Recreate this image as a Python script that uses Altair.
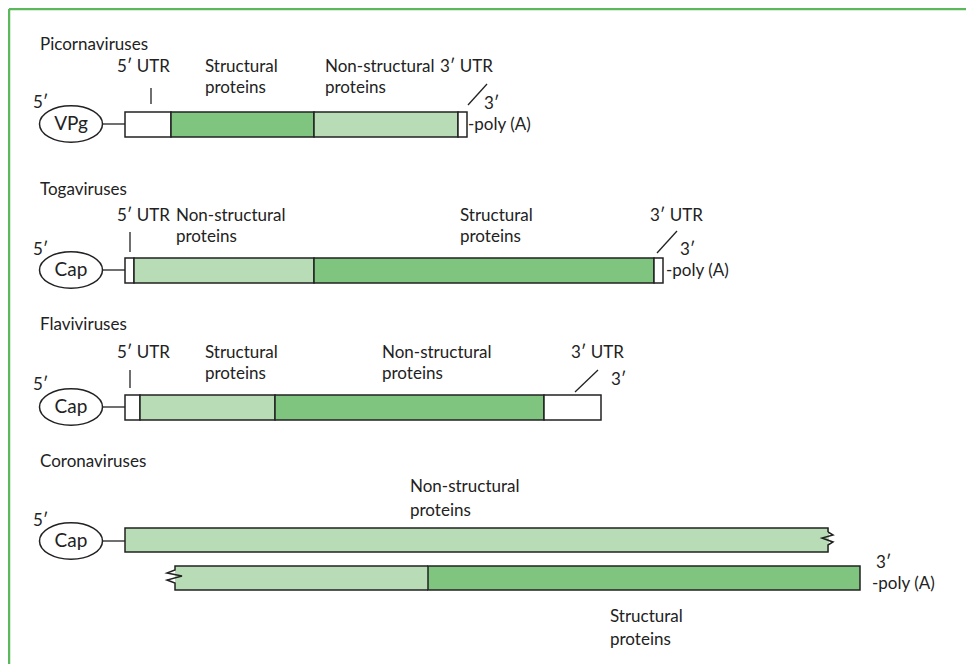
import altair as alt
import pandas as pd

FONT = "Lato"
FS = 17
DARK = "#7fc57f"
LIGHT = "#b8ddb6"
BORDER = "#5cb85c"

# ---- genome segments (x0, x1, y0, y1, kind) ----
seg_x0 = [125, 171, 314, 458, 125, 134, 314, 654, 125, 140, 275, 544, 175, 428]
seg_x1 = [171, 314, 458, 467, 134, 314, 654, 663, 140, 275, 544, 601, 428, 860]
seg_y0 = [112, 112, 112, 112, 258, 258, 258, 258, 395, 395, 395, 395, 566, 566]
seg_y1 = [137, 137, 137, 137, 283, 283, 283, 283, 420, 420, 420, 420, 590, 590]
seg_kind = ["utr", "dark", "light", "utr", "utr", "light", "dark", "utr",
            "utr", "light", "dark", "utr", "light", "dark"]
seg_stroke = [1, 1, 1, 1, 1, 1, 1, 1, 1, 1, 1, 1, 0, 1]

# coronavirus first bar (fill only; outline drawn with zigzag)
cov_fill_x0 = [125]
cov_fill_x1 = [829]
cov_fill_y0 = [528]
cov_fill_y1 = [552]

# outlines with zigzag ends
out1_x = [828, 828, 125, 125, 828, 828, 833, 822, 833, 828, 828]
out1_y = [532, 528, 528, 552, 552, 545, 542, 538, 535, 532, 532]
out2_x = [428, 175, 175, 167, 182, 167, 175, 175, 428]
out2_y = [566, 566, 570, 573, 576, 580, 583, 590, 590]

# caps / VPg ellipses
ell_x = [71, 71, 71, 71]
ell_y = [124, 270, 407, 541]
ell_label = ["VPg", "Cap", "Cap", "Cap"]

# line segments: connectors, ticks, slashes
ln_x = [102, 102, 102, 102, 151, 130, 130, 468, 657, 575]
ln_x2 = [125, 125, 125, 125, 151, 130, 130, 487, 677, 598]
ln_y = [124, 270, 407, 541, 88, 232, 370, 105, 253, 392]
ln_y2 = [124, 270, 407, 541, 104, 252, 388, 84, 231, 370]

# text labels
txt = ["Picornaviruses", "Togaviruses", "Flaviviruses", "Coronaviruses",
       "5′", "5′", "5′", "5′",
       "5′ UTR", "Structural", "proteins", "Non-structural", "proteins", "3′ UTR", "3′", "-poly (A)",
       "5′ UTR", "Non-structural", "proteins", "Structural", "proteins", "3′ UTR", "3′", "-poly (A)",
       "5′ UTR", "Structural", "proteins", "Non-structural", "proteins", "3′ UTR", "3′",
       "Non-structural", "proteins", "3′", "-poly (A)", "Structural", "proteins"]
txt_x = [40, 40, 40, 40,
         33, 33, 33, 33,
         117, 205, 205, 325, 325, 440, 484, 468,
         117, 176, 176, 460, 460, 650, 680, 666,
         117, 205, 205, 382, 382, 571, 611,
         410, 410, 876, 872, 610, 610]
txt_y = [45, 190, 325, 462,
         103, 250, 385, 521,
         67, 67, 88, 67, 88, 67, 104, 125,
         216, 216, 237, 216, 237, 216, 250, 271,
         353, 353, 374, 353, 374, 353, 380,
         487, 511, 563, 584, 617, 640]

# border (top and left of frame)
bd_x = [9, 9]
bd_x2 = [9, 966]
bd_y = [9, 9]
bd_y2 = [664, 9]

X = alt.Scale(domain=[8, 966], nice=False, zero=False)
Y = alt.Scale(domain=[8, 664], nice=False, zero=False, reverse=True)

def xq(f, **kw):
    return alt.X(f, type="quantitative", scale=X, axis=None, **kw)

def yq(f, **kw):
    return alt.Y(f, type="quantitative", scale=Y, axis=None, **kw)

colmap = {"utr": "white", "dark": DARK, "light": LIGHT}
segs = pd.DataFrame({"x0": seg_x0, "x1": seg_x1, "y0": seg_y0, "y1": seg_y1,
                     "fill": [colmap[k] for k in seg_kind], "sw": seg_stroke})
segs["strokecol"] = ["#222222" if s else "none" for s in segs["sw"]]

rects = alt.Chart(segs).mark_rect(strokeWidth=1.5).encode(
    x=xq("x0"), x2="x1", y=yq("y0"), y2="y1",
    fill=alt.Fill("fill:N", scale=None),
    stroke=alt.Stroke("strokecol:N", scale=None),
)

covfill = alt.Chart(pd.DataFrame({"x0": cov_fill_x0, "x1": cov_fill_x1,
                                  "y0": cov_fill_y0, "y1": cov_fill_y1})).mark_rect(
    fill=LIGHT, strokeWidth=0).encode(x=xq("x0"), x2="x1", y=yq("y0"), y2="y1")

outl = pd.DataFrame({
    "x": out1_x + out2_x,
    "y": out1_y + out2_y,
    "g": ["a"] * len(out1_x) + ["b"] * len(out2_x),
    "o": list(range(len(out1_x))) + list(range(len(out2_x))),
})
outlines = alt.Chart(outl).mark_line(color="#222222", strokeWidth=1.5, strokeJoin="miter").encode(
    x=xq("x"), y=yq("y"), detail="g:N", order="o:Q")

lines = alt.Chart(pd.DataFrame({"x": ln_x, "x2": ln_x2, "y": ln_y, "y2": ln_y2})).mark_rule(
    color="#222222", strokeWidth=1.3).encode(x=xq("x"), x2="x2", y=yq("y"), y2="y2")

border = alt.Chart(pd.DataFrame({"x": bd_x, "x2": bd_x2, "y": bd_y, "y2": bd_y2})).mark_rule(
    color=BORDER, strokeWidth=2.5).encode(x=xq("x"), x2="x2", y=yq("y"), y2="y2")

ELLIPSE = "M -1 0 A 1 0.58 0 1 1 1 0 A 1 0.58 0 1 1 -1 0 Z"
ells = pd.DataFrame({"x": ell_x, "y": ell_y, "label": ell_label})
ellipses = alt.Chart(ells).mark_point(
    shape=ELLIPSE, size=3969, filled=False, fill="white", fillOpacity=1,
    stroke="#222222", strokeWidth=1.5, opacity=1).encode(x=xq("x"), y=yq("y"))
ell_text = alt.Chart(ells).mark_text(font=FONT, fontSize=19, color="#222222",
                                     align="center", baseline="middle").encode(
    x=xq("x"), y=yq("y"), text="label:N")

texts = alt.Chart(pd.DataFrame({"x": txt_x, "y": txt_y, "t": txt})).mark_text(
    font=FONT, fontSize=FS, color="#222222", align="left", baseline="middle").encode(
    x=xq("x"), y=yq("y"), text="t:N")

chart = alt.layer(border, covfill, rects, outlines, lines, ellipses, ell_text, texts).properties(
    width=958, height=656, padding=0, autosize=alt.AutoSizeParams(type="none"),
    background="white",
).configure_view(stroke=None)

chart.save("out.html", embed_options={"renderer": "svg", "actions": False})
